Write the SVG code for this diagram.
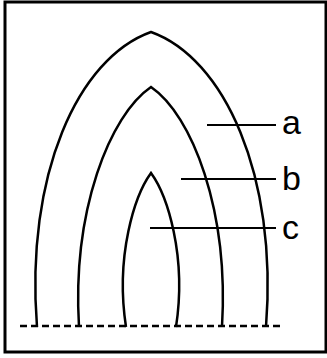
<svg xmlns="http://www.w3.org/2000/svg" width="327" height="358" viewBox="0 0 327 358">
<style>
.arch{fill:none;stroke:#000;stroke-width:2.5;stroke-linejoin:miter}
.lead{stroke:#000;stroke-width:2}
.base{stroke:#000;stroke-width:2.5;stroke-dasharray:7 4}
.lbl{font-family:"Liberation Sans",Arial,sans-serif;font-size:34px;fill:#000}
</style>
<rect x="5" y="2" width="321" height="350" fill="#fff" stroke="#000" stroke-width="3"/>
<g id="arch-outer"><path class="arch" d="M37,327 C25,175 78,58 151,32 C224,58 278,175 266,327"/></g>
<g id="arch-middle"><path class="arch" d="M79,327 C72,210 110,115 151,87 C192,115 229,210 222,327"/></g>
<g id="arch-inner"><path class="arch" d="M126,327 C115,255 135,195 151,173 C167,195 187,255 176,327"/></g>
<g id="connectors">
<line class="base" x1="20" y1="326" x2="284" y2="326"/>
<line class="lead" x1="207" y1="125" x2="276" y2="125"/>
<line class="lead" x1="181" y1="179" x2="276" y2="179"/>
<line class="lead" x1="150" y1="228" x2="276" y2="228"/>
</g>
<g id="label-a"><text class="lbl" x="282" y="134">a</text></g>
<g id="label-b"><text class="lbl" x="282" y="190">b</text></g>
<g id="label-c"><text class="lbl" x="282" y="239">c</text></g>
</svg>
